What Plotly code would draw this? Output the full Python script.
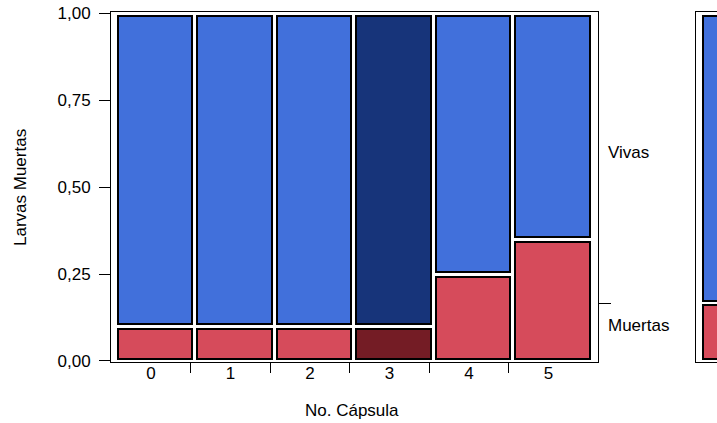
import plotly.graph_objects as go

# Data
capsulas = ["0", "1", "2", "3", "4", "5"]
muertas = [0.10, 0.10, 0.10, 0.10, 0.25, 0.35]
vivas = [1 - m for m in muertas]
y_ticks = [0, 0.25, 0.5, 0.75, 1.0]
y_ticktext = ["0,00", "0,25", "0,50", "0,75", "1,00"]
selected = 3

BLUE = "#4170DB"
RED = "#D64B5B"
DBLUE = "#17347A"
DRED = "#741C25"
FONT = "Liberation Sans, Arial, sans-serif"
FS = 17

g = 0.007
bw = 0.936
xs = list(range(len(capsulas)))
overall = sum(muertas) / len(muertas)

red_cols = [DRED if i == selected else RED for i in xs]
blue_cols = [DBLUE if i == selected else BLUE for i in xs]

fig = go.Figure()
fig.add_trace(go.Bar(x=xs, y=[m - 2 * g for m in muertas], base=[g] * len(xs), width=bw,
                     marker=dict(color=red_cols, line=dict(color="black", width=2)),
                     name="Muertas", xaxis="x", yaxis="y"))
fig.add_trace(go.Bar(x=xs, y=[v - 2 * g for v in vivas], base=[m + g for m in muertas], width=bw,
                     marker=dict(color=blue_cols, line=dict(color="black", width=2)),
                     name="Vivas", xaxis="x", yaxis="y"))
# marginal panel
fig.add_trace(go.Bar(x=[0], y=[overall - 2 * g], base=[g], width=bw,
                     marker=dict(color=RED, line=dict(color="black", width=2)),
                     xaxis="x3", yaxis="y3"))
fig.add_trace(go.Bar(x=[0], y=[1 - overall - 2 * g], base=[overall + g], width=bw,
                     marker=dict(color=BLUE, line=dict(color="black", width=2)),
                     xaxis="x3", yaxis="y3"))

yr = [-0.0029, 1.0037]
L = 111
W = 717 - L

def px(p):
    return (p - L) / W

fig.update_layout(
    width=717, height=423,
    margin=dict(l=L, r=0, t=12, b=423 - 362),
    paper_bgcolor="white", plot_bgcolor="white",
    showlegend=False, barmode="overlay", bargap=0,
    font=dict(family=FONT, size=FS, color="black"),
    xaxis=dict(domain=[0, px(598)], range=[-0.553, 5.572],
               tickmode="array", tickvals=[i - 0.05 for i in xs], ticktext=capsulas,
               ticks="", showline=True, mirror=True, linecolor="black", linewidth=1,
               showgrid=False, zeroline=False, ticklabelstandoff=-4,
               minor=dict(tickmode="array", tickvals=[i + 0.45 for i in xs[:-1]],
                          ticks="outside", ticklen=10, tickcolor="black", tickwidth=1,
                          showgrid=False),
               tickfont=dict(size=FS)),
    yaxis=dict(range=yr, tickmode="array", tickvals=y_ticks, ticktext=y_ticktext,
               ticks="outside", ticklen=11, tickcolor="black", tickwidth=1,
               showline=True, mirror=True, linecolor="black", linewidth=1,
               showgrid=False, zeroline=False, ticklabelstandoff=5,
               tickfont=dict(size=FS)),
    yaxis2=dict(range=yr, overlaying="y", side="right", anchor="x",
                tickmode="array", tickvals=[overall], ticks="outside", ticklen=12,
                tickcolor="black", tickwidth=1, showticklabels=False,
                showline=False, showgrid=False, zeroline=False),
    xaxis3=dict(domain=[px(696), 1], range=[-0.552, -0.552 + 21 / 79.5], anchor="y3",
                showline=True, mirror=True, linecolor="black", linewidth=1,
                showticklabels=False, ticks="", showgrid=False, zeroline=False),
    yaxis3=dict(domain=[0, 1], range=yr, anchor="x3", showline=True, mirror=False,
                linecolor="black", linewidth=1, showticklabels=False, ticks="",
                showgrid=False, zeroline=False),
)
# invisible trace to activate yaxis2
fig.add_trace(go.Scatter(x=[0], y=[overall], xaxis="x", yaxis="y2", mode="markers",
                         marker=dict(opacity=0), hoverinfo="skip"))

fig.add_annotation(text="Vivas", xref="paper", yref="y", x=px(606), y=(1 + overall) / 2,
                   xanchor="left", yanchor="middle", showarrow=False, yshift=6,
                   font=dict(size=FS))
fig.add_annotation(text="Muertas", xref="paper", yref="y", x=px(606), y=overall / 2,
                   xanchor="left", yanchor="middle", showarrow=False, yshift=7,
                   font=dict(size=FS))
fig.add_annotation(text="Larvas Muertas", xref="paper", yref="paper", x=px(20), y=0.5,
                   xanchor="center", yanchor="middle", textangle=-90, showarrow=False,
                   font=dict(size=FS))
fig.add_annotation(text="No. Cápsula", xref="paper", yref="paper", x=px(352),
                   y=-(410 - 362) / 350, xanchor="center", yanchor="middle",
                   showarrow=False, font=dict(size=FS))

fig.write_html("out.html", config={"displayModeBar": False},
               post_script="document.body.style.margin='0';document.body.style.overflow='hidden';")
